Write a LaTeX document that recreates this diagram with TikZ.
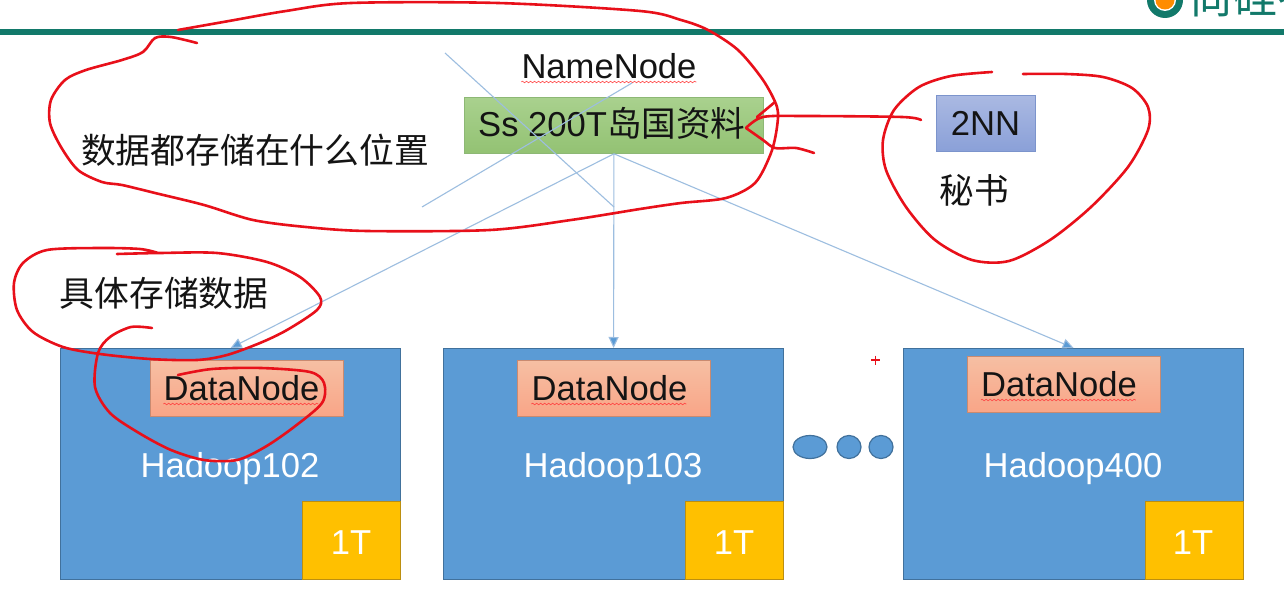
\documentclass[tikz,border=0pt]{standalone}
\usepackage{fontspec}
\setmainfont{Liberation Sans}
\newfontfamily\cjk{Noto Sans CJK SC}
\usetikzlibrary{arrows.meta,decorations.pathmorphing,shapes.geometric}
\definecolor{hostblue}{HTML}{5B9BD5}
\definecolor{hostedge}{HTML}{41719C}
\definecolor{linkblue}{HTML}{9DBEE0}
\definecolor{inkred}{HTML}{E8101A}
\definecolor{brandgreen}{HTML}{12796A}
\definecolor{diskfill}{HTML}{FFC000}
\definecolor{diskedge}{HTML}{BC8F10}
\definecolor{dntop}{HTML}{F6BFA3}
\definecolor{dnbot}{HTML}{F9A587}
\definecolor{dnedge}{HTML}{C98A70}
\definecolor{nntop}{HTML}{A9D18E}
\definecolor{nnbot}{HTML}{93C273}
\definecolor{nnedge}{HTML}{8DB875}
\definecolor{sntop}{HTML}{AAB9E2}
\definecolor{snbot}{HTML}{8AA0D8}
\definecolor{snedge}{HTML}{7C94CC}
\tikzset{
  x=1pt, y=-1pt,
  lbl/.style={inner sep=0pt, font=\fontsize{34.6}{40}\selectfont, text=black!92},
  lblw/.style={lbl, text=white},
  boxbase/.style={rectangle, inner sep=0pt, anchor=north west},
  hostbox/.style={boxbase, minimum width=340pt, minimum height=231pt, fill=hostblue, draw=hostedge, line width=1.2pt},
  diskbox/.style={boxbase, minimum width=98pt, minimum height=78pt, fill=diskfill, draw=diskedge, line width=1.2pt},
  dnbox/.style={boxbase, minimum width=193pt, minimum height=56pt, top color=dntop, bottom color=dnbot, draw=dnedge, line width=.8pt},
  dot/.style={ellipse, inner sep=0pt, fill=hostblue, draw=hostedge, line width=1.2pt},
  link/.style={draw=linkblue, line width=1.1pt},
  linkarrow/.style={link, -{Triangle[length=11pt,width=10pt,fill=hostblue]}},
  ink/.style={draw=inkred, line width=2.6pt, line cap=round, line join=round},
  squiggle/.style={draw=red!75!white, line width=.6pt, decorate, decoration={snake, amplitude=.8pt, segment length=4pt}},
}
\begin{document}
\begin{tikzpicture}
\useasboundingbox (0,0) rectangle (1284,612);
\fill[white] (0,0) rectangle (1284,612);

% slide header: brand mark and rule
\begin{scope}
  \clip (0,0) rectangle (1284,612);
  \fill[brandgreen] (1165,0) circle (18);
  \fill[white] (1165,0) circle (11);
  \fill[orange!90!yellow] (1165,0) circle (9.5);
  \node[anchor=base west, inner sep=0pt, text=brandgreen, font=\cjk\fontsize{44}{48}\selectfont] (brand) at (1189,14) {尚硅谷};
\end{scope}
\fill[brandgreen] (0,29.5) rectangle (1284,35);

% hosts with their disks
\node[hostbox] (h1) at (60,348) {};
\node[hostbox] (h2) at (443,348) {};
\node[hostbox] (h3) at (903,348) {};
\node[diskbox] (d1) at (302,501) {};
\node[diskbox] (d2) at (685,501) {};
\node[diskbox] (d3) at (1145,501) {};
\node[lblw, anchor=base] (t1) at (351,554) {1T};
\node[lblw, anchor=base] (t2) at (734,554) {1T};
\node[lblw, anchor=base] (t3) at (1193,554) {1T};
\node[lblw, anchor=base] (hn1) at (230,477) {Hadoop102};
\node[lblw, anchor=base] (hn2) at (613,477) {Hadoop103};
\node[lblw, anchor=base] (hn3) at (1073,477) {Hadoop400};

% DataNode boxes
\node[dnbox] (dn1) at (150,360) {};
\node[dnbox] (dn2) at (517,360) {};
\node[dnbox] (dn3) at (967,356) {};
\node[lbl, anchor=base] (dl1) at (241.5,400) {DataNode};
\node[lbl, anchor=base] (dl2) at (609.5,400) {DataNode};
\node[lbl, anchor=base] (dl3) at (1059,396) {DataNode};

% NameNode and secondary
\node[boxbase, minimum width=299pt, minimum height=56pt, top color=nntop, bottom color=nnbot, draw=nnedge, line width=.8pt] (nn) at (464,97) {};
\node[lbl, anchor=base] (nnt) at (609,79) {NameNode};
\node[lbl, anchor=base west] (nnl) at (478,137) {Ss 200T{\cjk 岛国资料}};
\node[boxbase, minimum width=99pt, minimum height=56pt, top color=sntop, bottom color=snbot, draw=snedge, line width=.8pt] (sn) at (936,95) {};
\node[lbl, anchor=base] (snl) at (985.5,136) {2NN};
\node[lbl, anchor=center, font=\cjk\fontsize{34.6}{40}\selectfont] (sec) at (974,190) {秘书};
\node[lbl, anchor=center, font=\cjk\fontsize{34.8}{40}\selectfont] (q1) at (255,150) {数据都存储在什么位置};
\node[lbl, anchor=center, font=\cjk\fontsize{34.8}{40}\selectfont] (q2) at (164,293) {具体存储数据};

% ellipsis between hosts
\node[dot, minimum width=34pt, minimum height=23pt] (e1) at (810,447) {};
\node[dot, minimum width=24pt, minimum height=23pt] (e2) at (849,447) {};
\node[dot, minimum width=24pt, minimum height=23pt] (e3) at (881,447) {};

% spell-check underlines
\draw[squiggle] (nnt.base west) ++(0,3) -- ++(175,0);
\draw[squiggle] (dl1.base west) ++(0,4) -- ++(155,0);
\draw[squiggle] (dl2.base west) ++(0,4) -- ++(155,0);
\draw[squiggle] (dl3.base west) ++(0,4) -- ++(155,0);

% links from the NameNode to each host
\draw[linkarrow] (nn.south) -- (h1.north);
\draw[linkarrow] (nn.south) -- (h2.north);
\draw[linkarrow] (nn.south) -- (h3.north);

% crossing strike-through lines
\coordinate (xa) at (445,53);
\coordinate (xb) at (614,207);
\coordinate (xc) at (632,83);
\coordinate (xd) at (422,207);
\draw[link] (xa) -- (xb);
\draw[link] (xc) -- (xd);

% hand-drawn annotations
\draw[ink] plot[smooth, tension=.5] coordinates {(178,30) (229,21) (286,11) (351,3) (498,3) (640,11) (681,20) (708,30) (738,50) (763,80) (777,107) (777,127) (771,153) (755,183) (726,198) (681,203) (640,209) (571,220) (490,230) (367,231) (306,227) (253,220) (204,205) (155,193) (122,185) (102,182) (78,170) (61,147) (50,123) (51,100) (65,80) (86,70) (122,60) (143,52) (155,38) (171,37) (197,43)};
\draw[ink] plot[smooth, tension=.5] coordinates {(921,120) (902,117) (804,116) (763,117) (746,128)};
\draw[ink] plot[smooth, tension=.5] coordinates {(746,128) (763,140) (775,148) (796,148) (814,153)};
\draw[ink] (775,102) -- (757,117);
\draw[ink] plot[smooth, tension=.5] coordinates {(992,72) (951,76) (919,87) (894,110) (883,140) (886,170) (906,207) (935,240) (972,260) (1009,261) (1050,240) (1091,207) (1128,167) (1148,130) (1148,107) (1132,88) (1103,77) (1066,74) (1023,74)};
\draw[ink] plot[smooth, tension=.5] coordinates {(158,253) (140,249) (100,248) (47,250) (23,263) (14,283) (17,310) (33,332) (63,347) (100,354) (150,359) (197,360) (227,355) (260,343) (287,330) (317,310) (320,297) (300,277) (267,262) (217,253) (160,253) (117,254)};
\draw[ink] plot[smooth, tension=.5] coordinates {(152,328) (131,327) (110,337) (98,353) (95,387) (110,413) (139,433) (171,450) (204,460) (237,460) (265,447) (294,427) (322,403) (324,383) (310,372) (261,368) (212,369) (178,375)};

% pointer mark
\draw[inkred, line width=1.8pt] (871,360) -- (880,360) (875.5,355.5) -- (875.5,364.5);
\end{tikzpicture}
\end{document}
